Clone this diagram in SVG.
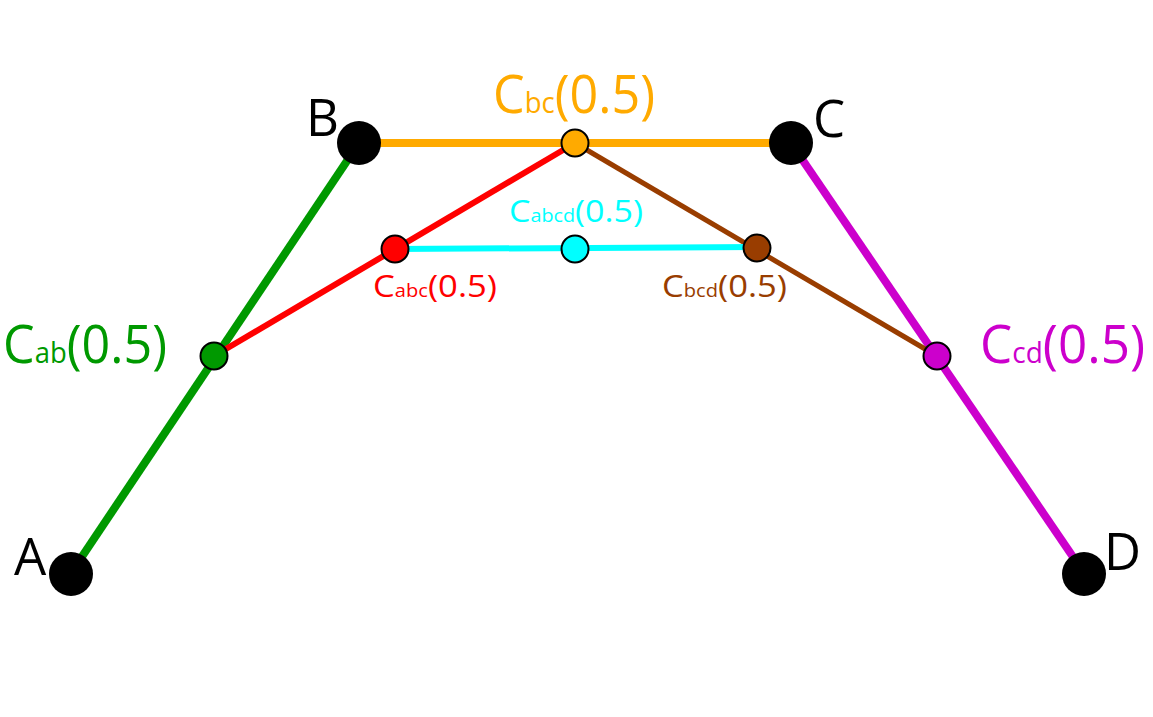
<svg xmlns="http://www.w3.org/2000/svg" width="1153" height="717" viewBox="0 0 1153 717">
<style>
.lbl{font-family:"Open Sans","DejaVu Sans",sans-serif;}
.pt{fill:#000;}
.sp{stroke:#000;stroke-width:2;}
line{stroke-linecap:butt;}
</style>
<rect width="1153" height="717" fill="#fff"/>
<g id="connectors">
<line x1="71" y1="573" x2="359" y2="143" stroke="#009900" stroke-width="8"/>
<line x1="359" y1="143" x2="791" y2="143" stroke="#ffaa00" stroke-width="8"/>
<line x1="791" y1="143" x2="1084" y2="573" stroke="#cc00cc" stroke-width="8"/>
<line x1="214" y1="356" x2="575" y2="143" stroke="#ff0000" stroke-width="6"/>
<line x1="575" y1="143" x2="937" y2="356" stroke="#993d00" stroke-width="5"/>
<line x1="395" y1="249" x2="757" y2="247" stroke="#00ffff" stroke-width="6"/>
</g>
<g id="Cab"><circle cx="214" cy="356" r="13.5" fill="#009900" class="sp"/><text class="lbl" x="3" y="363" font-size="53" fill="#009900" textLength="164" lengthAdjust="spacingAndGlyphs">C<tspan font-size="29">ab</tspan>(0.5)</text></g>
<g id="Cbc"><circle cx="575" cy="143" r="13.5" fill="#ffaa00" class="sp"/><text class="lbl" x="493" y="113" font-size="53" fill="#ffaa00" textLength="162" lengthAdjust="spacingAndGlyphs">C<tspan font-size="29">bc</tspan>(0.5)</text></g>
<g id="Ccd"><circle cx="937" cy="356" r="13.5" fill="#cc00cc" class="sp"/><text class="lbl" x="980" y="363" font-size="53" fill="#cc00cc" textLength="165" lengthAdjust="spacingAndGlyphs">C<tspan font-size="29">cd</tspan>(0.5)</text></g>
<g id="Cabc"><circle cx="395" cy="249" r="13.5" fill="#ff0000" class="sp"/><text class="lbl" x="373" y="297" font-size="31" fill="#ff0000" textLength="124" lengthAdjust="spacingAndGlyphs">C<tspan font-size="18">abc</tspan>(0.5)</text></g>
<g id="Cbcd"><circle cx="757" cy="248" r="13.5" fill="#993d00" class="sp"/><text class="lbl" x="662" y="297" font-size="31" fill="#993d00" textLength="125" lengthAdjust="spacingAndGlyphs">C<tspan font-size="18">bcd</tspan>(0.5)</text></g>
<g id="Cabcd"><circle cx="575" cy="249" r="13.5" fill="#00ffff" class="sp"/><text class="lbl" x="509" y="222" font-size="31" fill="#00ffff" textLength="134" lengthAdjust="spacingAndGlyphs">C<tspan font-size="18">abcd</tspan>(0.5)</text></g>
<g id="A"><circle cx="71" cy="574" r="22" class="pt"/><text class="lbl" x="14" y="575" font-size="51" fill="#000">A</text></g>
<g id="B"><circle cx="359" cy="143" r="22" class="pt"/><text class="lbl" x="306" y="136" font-size="51" fill="#000">B</text></g>
<g id="C"><circle cx="791" cy="143" r="22" class="pt"/><text class="lbl" x="813" y="137" font-size="51" fill="#000">C</text></g>
<g id="D"><circle cx="1084" cy="574" r="22" class="pt"/><text class="lbl" x="1104" y="570" font-size="51" fill="#000">D</text></g>
</svg>
